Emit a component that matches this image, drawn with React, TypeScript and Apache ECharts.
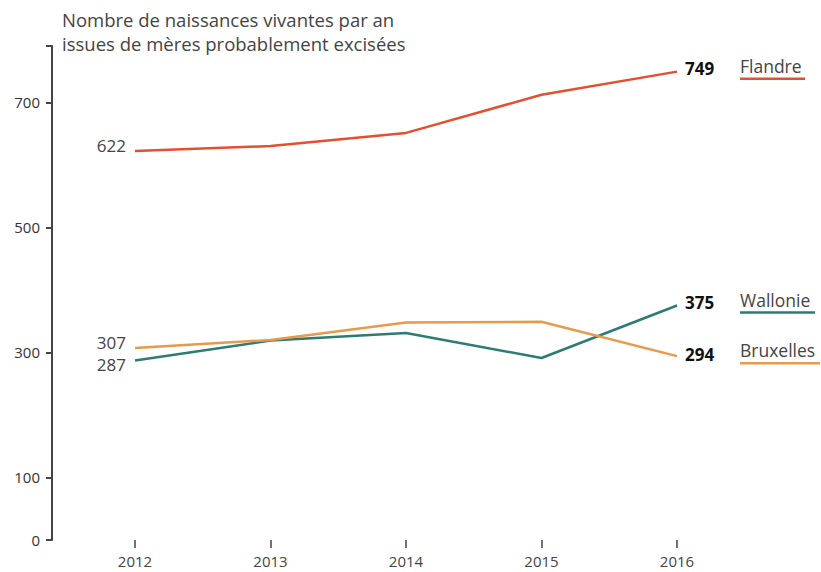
import React, { useEffect, useRef } from 'react';
import * as echarts from 'echarts';

const years = ['2012', '2013', '2014', '2015', '2016'];
const flandre = [622, 630, 651, 712, 749];
const wallonie = [287, 319, 331, 291, 375];
const bruxelles = [307, 320, 348, 349, 294];
const seriesNames = ['Flandre', 'Wallonie', 'Bruxelles'];
const yLabelValues = [0, 100, 300, 500, 700];
const yMax = 790;
const yTickValues = [0, 100, 300, 500, 700, 790];
const titleLines = ['Nombre de naissances vivantes par an', 'issues de mères probablement excisées'];

export default function App() {
  const ref = useRef<HTMLDivElement>(null);
  useEffect(() => {
    document.body.style.margin = '0';
    const chart = echarts.init(ref.current!, null, { renderer: 'svg' });
    const font = '"Open Sans", Lato, sans-serif';
    const colors = ['#E4502E', '#2D7C74', '#E8994A'];
    const seriesData = [flandre, wallonie, bruxelles];
    const startOffsets = [[0, -6], [0, 4], [0, -6]];
    const endOffsets = [[0, -3], [0, -3], [0, -2]];
    const underlineWidths = [65, 75, 80];

    chart.setOption({
      animation: false,
      textStyle: { fontFamily: font },
      grid: { left: 135, right: 144, top: 46, bottom: 32 },
      xAxis: {
        type: 'category',
        data: years,
        boundaryGap: false,
        axisLine: { show: false },
        axisTick: { show: true, alignWithLabel: true, length: 8, lineStyle: { color: '#444', width: 1.5 } },
        axisLabel: { margin: 13, color: '#444', fontSize: 15, fontFamily: font },
        splitLine: { show: false },
      },
      yAxis: {
        type: 'value',
        min: 0,
        max: yMax,
        offset: 83,
        axisLine: { show: true, lineStyle: { color: '#444', width: 2 } },
        axisTick: { show: true, length: 6, customValues: yTickValues, lineStyle: { color: '#444', width: 2 } },
        axisLabel: { margin: 12, color: '#333', fontSize: 15, fontFamily: font, customValues: yLabelValues },
        splitLine: { show: false },
      },
      series: seriesData.map((d, si) => ({
        type: 'line',
        name: seriesNames[si],
        symbol: 'circle',
        symbolSize: 0,
        showSymbol: true,
        lineStyle: { color: colors[si], width: 2.5 },
        itemStyle: { color: colors[si] },
        data: d.map((v, i) =>
          i === 0
            ? {
                value: v,
                label: {
                  show: true,
                  position: 'left',
                  distance: 9,
                  offset: startOffsets[si],
                  color: '#444',
                  fontSize: 17,
                  lineHeight: 17,
                  fontFamily: font,
                  formatter: '{c}',
                },
              }
            : v
        ),
        endLabel: {
          show: true,
          distance: 8,
          offset: endOffsets[si],
          formatter: '{c}',
          color: '#111',
          fontWeight: 'bold',
          fontSize: 17,
          fontFamily: font,
        },
      })),
    });

    const graphics: any[] = titleLines.map((t, i) => ({
      type: 'text',
      left: 62,
      top: 10 + i * 24,
      style: {
        text: t,
        fontSize: 18.5,
        lineHeight: 19,
        fill: '#444',
        fontFamily: font,
      },
    }));
    seriesData.forEach((d, si) => {
      const last = d.length - 1;
      const p = chart.convertToPixel({ seriesIndex: si }, [last, d[last]]) as number[];
      const nx = p[0] + 63;
      graphics.push({
        type: 'text',
        x: nx,
        y: p[1] - 6,
        style: {
          text: seriesNames[si],
          fontSize: 17.5,
          fill: '#444',
          fontFamily: font,
          verticalAlign: 'middle',
          align: 'left',
        },
      });
      graphics.push({
        type: 'line',
        shape: { x1: nx, y1: p[1] + 7, x2: nx + underlineWidths[si], y2: p[1] + 7 },
        style: { stroke: colors[si], lineWidth: 2.5 },
      });
    });
    chart.setOption({ graphic: graphics });

    return () => chart.dispose();
  }, []);
  return <div ref={ref} style={{ width: 821, height: 572 }} />;
}
